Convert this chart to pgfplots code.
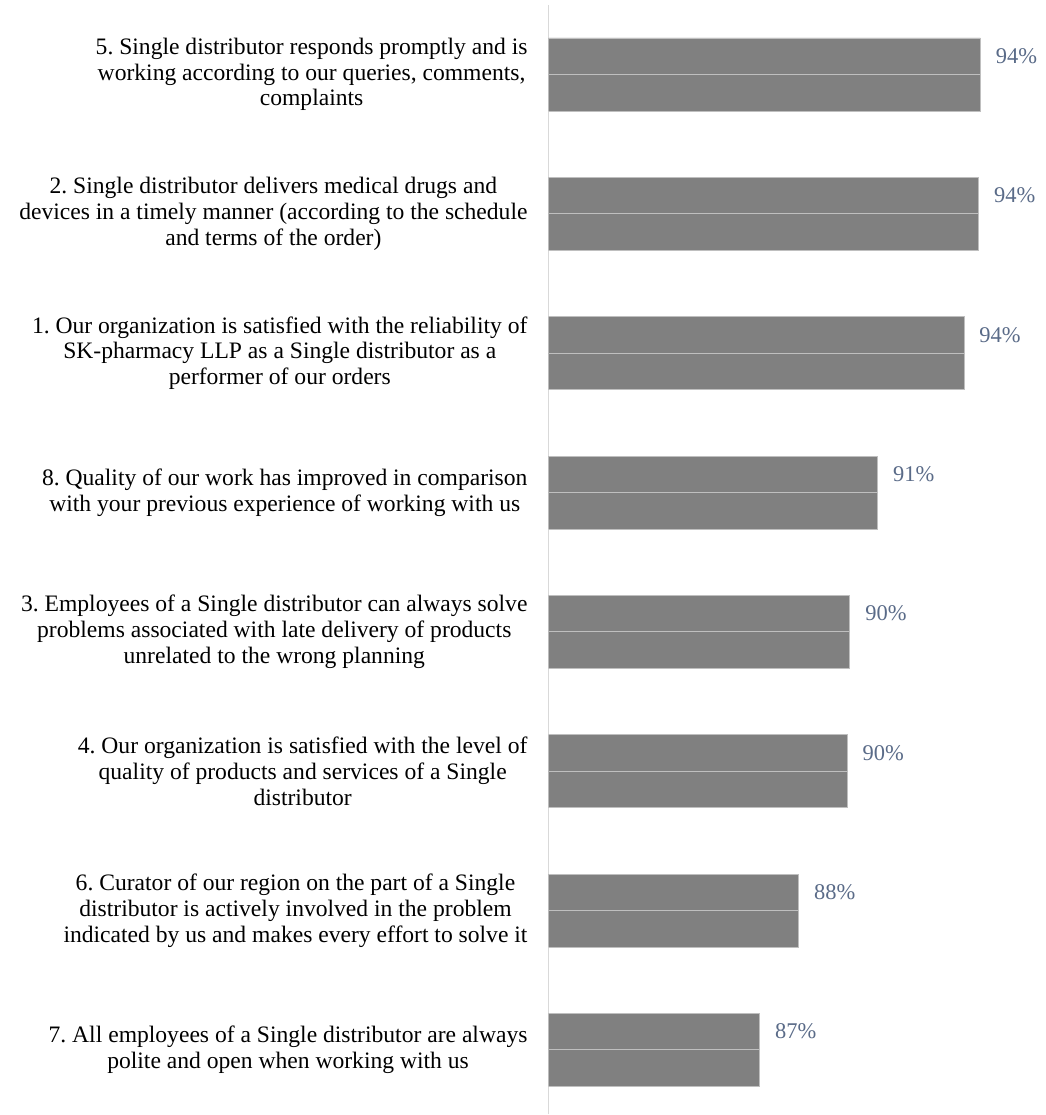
\documentclass[border=0pt]{standalone}
\usepackage{fontspec}
\setmainfont{Liberation Serif}
\usepackage{pgfplots}
\pgfplotsset{compat=1.18}
\definecolor{barfill}{HTML}{808080}
\definecolor{barline}{HTML}{BFBFBF}
\definecolor{vallab}{HTML}{5A6B88}
\definecolor{axline}{HTML}{D9D9D9}
\frenchspacing
\begin{document}
\begin{tikzpicture}
\begin{axis}[
  scale only axis, width=497pt, height=1110pt,
  xmin=80, xmax=96.62, ymin=-0.4626, ymax=7.4985,
  axis x line=none, axis y line=left,
  y axis line style={draw=axline, line width=1.3pt, -},
  ytick={0,...,7}, major tick length=0pt,
  yticklabels={
    {7. All employees of a Single distributor are always\\polite and open when working with us},
    {6. Curator of our region on the part of a Single\\distributor is actively involved in the problem\\indicated by us and makes every effort to solve it},
    {4. Our organization is satisfied with the level of\\quality of products and services of a Single\\distributor},
    {3. Employees of a Single distributor can always solve\\problems associated with late delivery of products\\unrelated to the wrong planning},
    {8. Quality of our work has improved in comparison\\with your previous experience of working with us},
    {1. Our organization is satisfied with the reliability of\\SK-pharmacy LLP as a Single distributor as a\\performer of our orders},
    {2. Single distributor delivers medical drugs and\\devices in a timely manner (according to the schedule\\and terms of the order)},
    {5. Single distributor responds promptly and is\\working according to our queries, comments,\\complaints}
  },
  yticklabel style={font=\fontsize{23.6}{25.8}\selectfont\frenchspacing, align=center, inner sep=0pt, xshift=-21pt},
  xbar, bar width=36.5pt,
  point meta=x,
]
\addplot[fill=barfill, draw=barline, line width=0.8pt, bar shift=18.25pt,
  nodes near coords={\pgfmathprintnumber[fixed,precision=0,assume math mode=true]{\pgfplotspointmeta}\%},
  nodes near coords style={font=\fontsize{22.5}{26}\selectfont, text=vallab, anchor=west, inner sep=0pt, xshift=15pt}]
  coordinates {(87.06,0) (88.37,1) (89.99,2) (90.08,3) (91.01,4) (93.90,5) (94.39,6) (94.45,7)};
\addplot[fill=barfill, draw=barline, line width=0.8pt, bar shift=-18.25pt]
  coordinates {(87.06,0) (88.37,1) (89.99,2) (90.08,3) (91.01,4) (93.90,5) (94.39,6) (94.45,7)};
\end{axis}
\path ([xshift=-549pt]current axis.south west) rectangle ([yshift=5pt]current axis.north east);
\end{tikzpicture}
\end{document}
